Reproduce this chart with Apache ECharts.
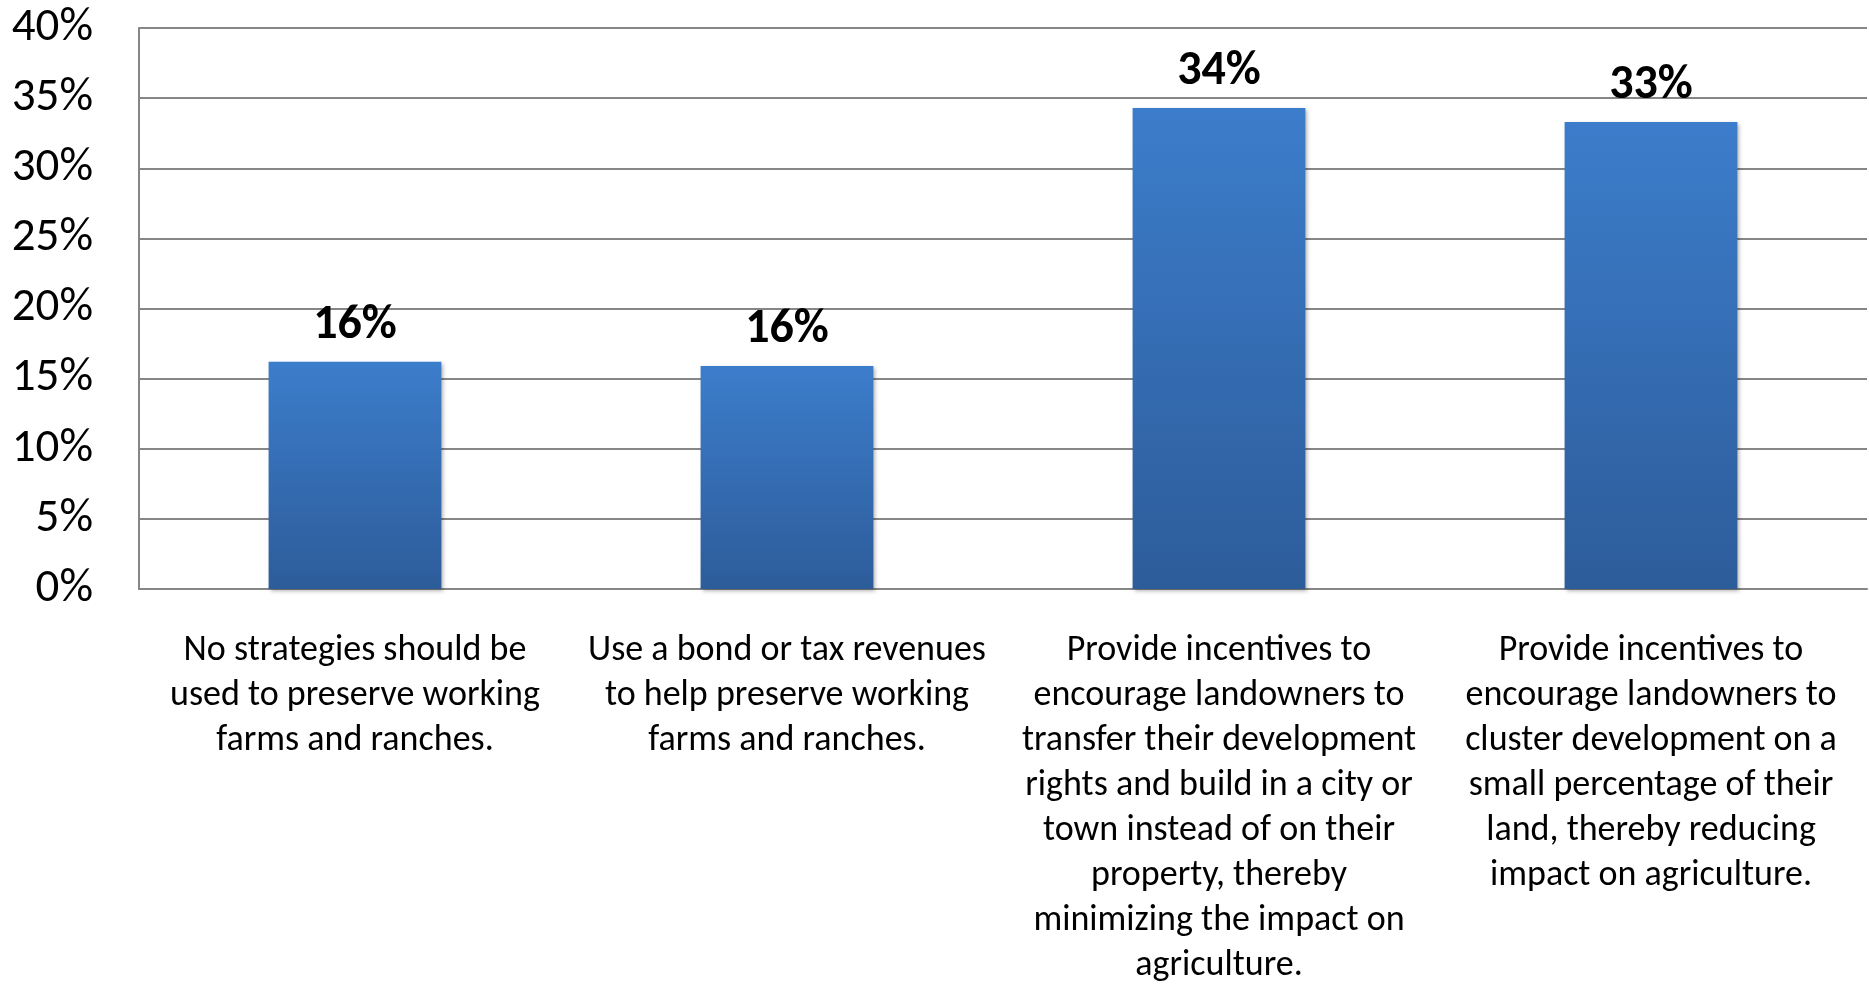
<!DOCTYPE html>
<html>
<head>
    <meta charset="utf-8">
    <title>Farmland strategies</title>
    <script src="https://cdn.jsdelivr.net/npm/echarts@6/dist/echarts.min.js"></script>
    <style>
        html, body { margin: 0; padding: 0; background: #fff; }
        #chart { width: 1869px; height: 989px; }
    </style>
</head>
<body>
<div id="chart"></div>
<script type="text/javascript">
    // data
    var categories = [
        'No strategies should be\nused to preserve working\nfarms and ranches.',
        'Use a bond or tax revenues\nto help preserve working\nfarms and ranches.',
        'Provide incentives to\nencourage landowners to\ntransfer their development\nrights and build in a city or\ntown instead of on their\nproperty, thereby\nminimizing the impact on\nagriculture.',
        'Provide incentives to\nencourage landowners to\ncluster development on a\nsmall percentage of their\nland, thereby reducing\nimpact on agriculture.'
    ];
    var shares = [16.2, 15.9, 34.3, 33.3];
    var yTicks = [0, 40, 5]; // min, max, step

    var font = 'Carlito, Lato, "Open Sans", sans-serif';
    var myChart = echarts.init(document.getElementById('chart'));
    myChart.setOption({
        animation: false,
        grid: { left: 139, right: 2, top: 28, bottom: 400, containLabel: false },
        xAxis: {
            type: 'category',
            data: categories,
            axisLine: { lineStyle: { color: '#868686', width: 2 } },
            axisTick: { show: false },
            axisLabel: {
                interval: 0,
                margin: 39,
                color: '#000',
                fontFamily: font,
                fontSize: 36,
                lineHeight: 45,
                align: 'center'
            }
        },
        yAxis: {
            type: 'value',
            min: yTicks[0],
            max: yTicks[1],
            interval: yTicks[2],
            axisLine: { show: true, lineStyle: { color: '#868686', width: 2 } },
            axisTick: { show: false },
            splitLine: { lineStyle: { color: '#868686', width: 2 } },
            axisLabel: {
                formatter: '{value}%',
                margin: 46,
                color: '#000',
                fontFamily: font,
                fontSize: 47
            }
        },
        series: [{
            type: 'bar',
            data: shares,
            barWidth: '40%',
            itemStyle: {
                color: new echarts.graphic.LinearGradient(0, 0, 0, 1, [
                    { offset: 0, color: '#3c7dcb' },
                    { offset: 1, color: '#2d5c9a' }
                ]),
                shadowColor: 'rgba(0,0,0,0.3)',
                shadowBlur: 4,
                shadowOffsetX: 2,
                shadowOffsetY: 2
            },
            label: {
                show: true,
                position: 'top',
                distance: 12,
                color: '#000',
                fontFamily: font,
                fontWeight: 'bold',
                fontSize: 48,
                formatter: function (p) { return Math.round(p.value) + '%'; }
            }
        }]
    });
</script>
</html>
